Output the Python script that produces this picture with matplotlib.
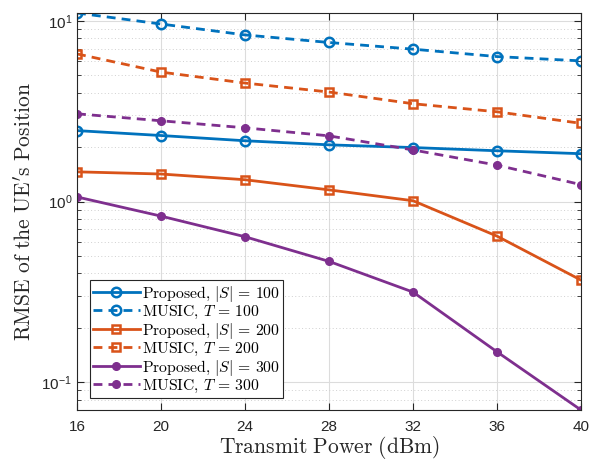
import matplotlib
matplotlib.use("Agg")
import matplotlib.pyplot as plt
from matplotlib.ticker import LogLocator, NullFormatter

plt.rcParams['mathtext.fontset'] = 'cm'
plt.rcParams['font.family'] = ['Liberation Sans', 'DejaVu Sans']

power = [16, 20, 24, 28, 32, 36, 40]
prop_100 = [2.47, 2.32, 2.17, 2.06, 1.99, 1.91, 1.84]
music_100 = [11.07, 9.62, 8.37, 7.6, 6.98, 6.35, 6.01]
prop_200 = [1.46, 1.42, 1.32, 1.16, 1.01, 0.643, 0.367]
music_200 = [6.57, 5.21, 4.53, 4.04, 3.48, 3.14, 2.71]
prop_300 = [1.06, 0.83, 0.638, 0.466, 0.315, 0.147, 0.070]
music_300 = [3.06, 2.80, 2.56, 2.31, 1.93, 1.59, 1.24]

labels = [r"$\mathrm{Proposed,}\,|S|\,=\,100$",
          r"$\mathrm{MUSIC,}\,T\,=\,100$",
          r"$\mathrm{Proposed,}\,|S|\,=\,200$",
          r"$\mathrm{MUSIC,}\,T\,=\,200$",
          r"$\mathrm{Proposed,}\,|S|\,=\,300$",
          r"$\mathrm{MUSIC,}\,T\,=\,300$"]

blue = '#0072BD'
orange = '#D95319'
purple = '#7E2F8E'

fig = plt.figure(figsize=(5.98, 4.61), dpi=100)
ax = fig.add_axes([77/598, 1 - 410/461, (581-77)/598, (410-13)/461])

lw = 2.0
dash = (0, (3.2, 2.2))
ax.plot(power, prop_100, '-', color=blue, lw=lw, marker='o', ms=6.8, mfc='none', mew=1.8, label=labels[0])
ax.plot(power, music_100, linestyle=dash, color=blue, lw=lw, marker='o', ms=6.8, mfc='none', mew=1.8, label=labels[1])
ax.plot(power, prop_200, '-', color=orange, lw=lw, marker='s', ms=5.2, mfc='none', mew=1.8, label=labels[2])
ax.plot(power, music_200, linestyle=dash, color=orange, lw=lw, marker='s', ms=5.2, mfc='none', mew=1.8, label=labels[3])
ax.plot(power, prop_300, '-', color=purple, lw=lw, marker='o', ms=5.5, mfc=purple, mew=1.0, label=labels[4])
ax.plot(power, music_300, linestyle=dash, color=purple, lw=lw, marker='o', ms=5.5, mfc=purple, mew=1.0, label=labels[5])

ax.set_yscale('log')
ax.set_xlim(16, 40)
ax.set_ylim(min(prop_300), max(music_100))
ax.set_xticks(power)
ax.set_xticklabels([str(p) for p in power])
ax.yaxis.set_major_locator(LogLocator(base=10, numticks=10))
ax.yaxis.set_minor_locator(LogLocator(base=10, subs=range(2, 10), numticks=20))
ax.yaxis.set_minor_formatter(NullFormatter())

ax.grid(True, which='major', color='#dcdcdc', lw=0.8, ls='-')
ax.grid(True, which='minor', axis='y', color='#d0d0d0', lw=0.7, ls=(0, (1, 2.5)))
ax.set_axisbelow(True)

for s in ax.spines.values():
    s.set_color('#262626')
    s.set_linewidth(0.8)
ax.tick_params(which='both', direction='in', top=True, right=True, colors='#262626', labelsize=11)
ax.tick_params(which='major', length=5)
ax.tick_params(which='minor', length=3)
ax.tick_params(axis='x', pad=7)

ax.set_xlabel(r"$\mathrm{Transmit\ Power\ (dBm)}$", fontsize=15.5, color='#262626', labelpad=0)
ax.set_ylabel(r"$\mathrm{RMSE\ of\ the\ UE's\ Position}$", fontsize=15.5, color='#262626', labelpad=4)

leg = ax.legend(loc='lower left', bbox_to_anchor=(0.025, 0.03), fontsize=11.3, frameon=True, fancybox=False,
                edgecolor='#262626', framealpha=1, handlelength=3.0, handletextpad=0.15,
                borderpad=0.2, labelspacing=0.0, borderaxespad=0)
leg.get_frame().set_linewidth(0.8)

fig.savefig('out.png', dpi=100)
